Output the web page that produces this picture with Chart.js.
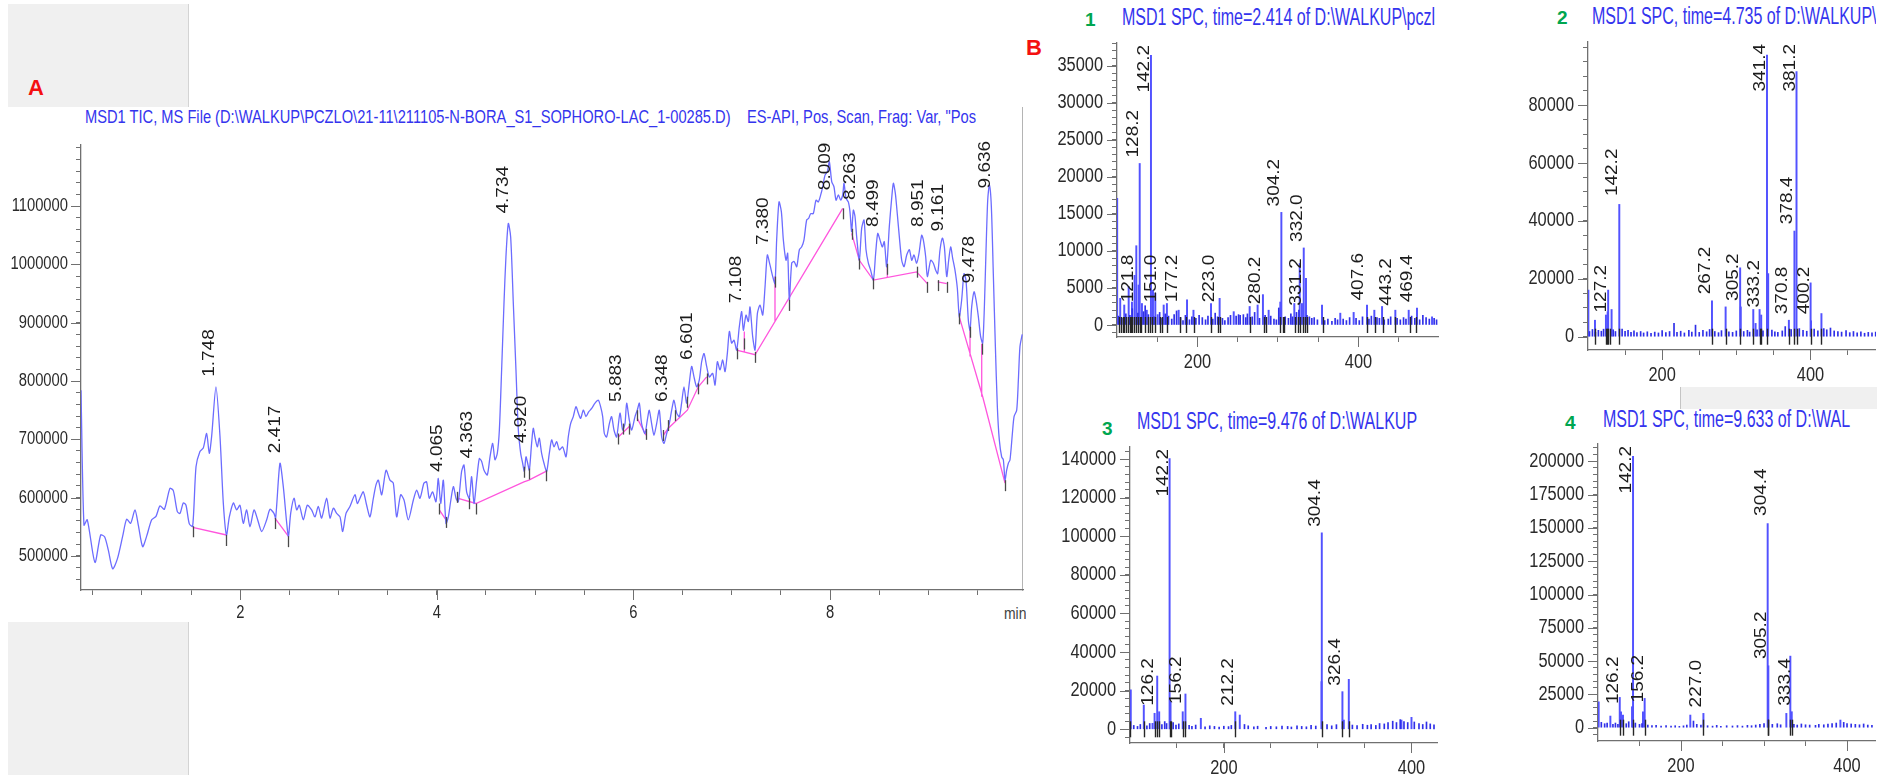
<!DOCTYPE html>
<html>
<head>
<meta charset="utf-8">
<script src="https://cdn.jsdelivr.net/npm/chart.js@4.4.1/dist/chart.umd.min.js"></script>
<style>
  body { margin: 0; width: 1896px; height: 782px; overflow: hidden; position: relative; background: #fff; }
  canvas { position: absolute; }
  .box { position: absolute; background: #f0f0f0; }
  .tag { position: absolute; font-family: 'Liberation Sans', Arial, sans-serif; font-weight: bold; line-height: 1; }
  .ttl { position: absolute; white-space: pre; color: #3434ee; line-height: 1.3;
         font-family: 'Liberation Sans', Arial, sans-serif; }
  .clip { overflow: hidden; }
  .ttl span { display: inline-block; transform-origin: 0 50%; }
</style>
</head>
<body>
<div class="box" style="left:8px;top:4px;width:180px;height:103px;border-right:1px solid #d4d4d4"></div>
<div class="box" style="left:8px;top:622px;width:180px;height:153px;border-right:1px solid #d4d4d4"></div>
<div class="box" style="left:1680px;top:387px;width:196px;height:22px;border-left:1px solid #c4c4c4"></div>
<div style="position:absolute;left:1022px;top:107px;width:1px;height:484px;background:#b4b4b4"></div>

<div class="tag" style="left:28px;top:77px;color:#f41010;font-size:22px">A</div>
<div class="tag" style="left:1026px;top:37px;color:#f41010;font-size:22px">B</div>
<div class="tag" style="left:1085px;top:10px;color:#00a650;font-size:19px">1</div>
<div class="tag" style="left:1557px;top:8px;color:#00a650;font-size:19px">2</div>
<div class="tag" style="left:1102px;top:419px;color:#00a650;font-size:19px">3</div>
<div class="tag" style="left:1565px;top:413px;color:#00a650;font-size:19px">4</div>

<div class="ttl" style="left:85px;top:106px;font-size:18px"><span id="titleA">MSD1 TIC, MS File (D:\WALKUP\PCZLO\21-11\211105-N-BORA_S1_SOPHORO-LAC_1-00285.D)    ES-API, Pos, Scan, Frag: Var, "Pos</span></div>
<div class="ttl clip" style="left:1122px;top:3px;width:315px;font-size:23px"><span class="spt" id="title1">MSD1 SPC, time=2.414 of D:\WALKUP\pczl</span></div>
<div class="ttl clip" style="left:1592px;top:2px;width:284px;font-size:23px"><span class="spt">MSD1 SPC, time=4.735 of D:\WALKUP\p</span></div>
<div class="ttl clip" style="left:1137px;top:407px;width:300px;font-size:23px"><span class="spt">MSD1 SPC, time=9.476 of D:\WALKUP</span></div>
<div class="ttl clip" style="left:1603px;top:405px;width:273px;font-size:23px"><span class="spt">MSD1 SPC, time=9.633 of D:\WAL</span></div>
<div style="position:absolute;left:1004px;top:604px;width:22px;overflow:hidden;white-space:nowrap;font:17px 'Liberation Sans',sans-serif;color:#444"><span style="display:inline-block;transform:scaleX(0.82);transform-origin:0 50%">min</span></div>

<canvas id="tic"></canvas>
<canvas id="sp1"></canvas>
<canvas id="sp2"></canvas>
<canvas id="sp3"></canvas>
<canvas id="sp4"></canvas>

<script>
// ---------- TIC chromatogram (panel A) ----------
const ticTime = [
  0.380,0.410,0.444,0.522,0.580,0.620,0.658,0.702,0.750,0.804,
  0.844,0.885,0.929,0.963,1.007,1.048,1.099,1.143,1.184,1.228,
  1.285,1.319,1.360,1.387,1.421,1.448,1.482,1.516,1.550,1.590,
  1.624,1.658,1.685,1.709,1.753,1.794,1.828,1.860,1.889,1.930,
  1.963,1.997,2.031,2.065,2.099,2.140,2.174,2.218,2.269,2.303,
  2.343,2.360,2.404,2.438,2.489,2.513,2.547,2.574,2.601,2.642,
  2.682,2.726,2.760,2.794,2.828,2.879,2.913,2.947,2.981,3.015,
  3.042,3.076,3.116,3.167,3.191,3.218,3.252,3.286,3.320,3.354,
  3.381,3.405,3.439,3.483,3.523,3.557,3.591,3.632,3.666,
  3.710,3.761,3.795,3.828,3.869,3.896,3.923,3.957,3.991,4.015,
  4.039,4.066,4.093,4.117,4.140,4.168,4.195,4.218,4.252,4.276,
  4.303,4.330,4.354,4.378,4.405,4.432,4.456,4.480,4.513,4.541,
  4.568,4.591,4.615,4.636,4.659,4.683,4.703,4.727,4.751,4.778,
  4.805,4.829,4.853,4.873,4.890,4.907,4.924,4.941,4.964,4.981,
  4.998,5.022,5.042,5.066,5.090,5.117,5.144,5.168,5.192,5.219,
  5.246,5.280,5.314,5.337,5.361,5.388,5.415,5.439,5.463,5.490,
  5.517,5.544,5.575,5.609,5.643,5.666,5.687,5.704,5.727,5.755,
  5.778,5.802,5.829,5.863,5.890,5.914,5.931,5.958,5.982,6.016,
  6.039,6.060,6.083,6.117,6.141,6.161,6.185,6.209,6.236,6.263,
  6.287,6.311,6.338,6.365,6.389,6.412,6.440,6.467,6.490,6.514,
  6.541,6.568,6.592,6.616,6.643,6.670,6.694,6.718,6.745,6.772,
  6.806,6.830,6.854,6.881,6.908,6.932,6.955,6.976,6.999,7.023,
  7.050,7.077,7.101,7.118,7.145,7.169,7.186,7.213,7.237,7.261,
  7.288,7.315,7.339,7.362,7.389,7.417,7.440,7.457,7.481,7.505,
  7.525,7.552,7.569,7.586,7.610,7.634,7.661,7.688,7.712,7.735,
  7.762,7.783,7.803,7.830,7.857,7.881,7.905,7.925,7.949,7.973,
  7.993,8.017,8.040,8.061,8.085,8.108,8.129,8.142,8.163,8.186,
  8.203,8.220,8.237,8.254,8.271,8.298,8.322,8.346,8.366,8.390,
  8.413,8.441,8.464,8.485,8.508,8.532,8.552,8.576,8.603,8.627,
  8.644,8.664,8.685,8.705,8.729,8.753,8.780,8.807,8.831,8.854,
  8.881,8.905,8.932,8.949,8.973,8.990,9.024,9.051,9.075,9.095,
  9.119,9.143,9.163,9.187,9.207,9.227,9.248,9.271,9.295,9.315,
  9.339,9.363,9.383,9.407,9.424,9.441,9.465,9.485,9.509,9.532,
  9.553,9.570,9.587,9.604,9.621,9.641,9.661,9.682,9.702,9.722,
  9.746,9.763,9.780,9.797,9.814,9.831,9.855,9.872,9.899,9.916,
  9.932,9.955
];
// abundance in thousands of counts
const ticAbundK = [
  784,553,562,489,536,533,510,478,495,534,
  563,556,579,553,516,534,562,568,586,580,
  616,612,576,573,591,587,555,551,653,679,
  685,710,676,705,790,705,590,536,567,591,
  579,587,556,579,550,579,564,542,562,580,
  573,565,659,619,534,573,599,579,587,562,
  587,579,567,585,565,599,565,582,573,567,
  542,573,585,605,590,599,610,587,567,599,
  622,630,605,647,630,625,567,605,596,
  562,596,613,599,625,627,599,610,593,633,
  590,630,556,567,593,619,599,593,645,656,
  610,599,636,590,630,667,662,647,639,670,
  693,665,676,716,819,933,1013,1070,1047,933,
  819,716,676,659,645,670,659,647,693,719,
  704,687,702,676,659,645,676,699,687,696,
  682,687,670,704,727,739,756,745,736,750,
  739,747,753,762,767,756,739,710,704,727,
  739,716,704,745,716,727,762,733,716,739,
  750,762,727,710,733,750,727,707,727,750,
  704,693,710,727,750,767,745,739,762,790,
  762,796,825,807,790,802,833,847,825,807,
  813,793,833,819,836,816,847,885,865,870,
  853,893,919,887,913,902,927,876,853,916,
  930,913,962,1016,999,979,967,1042,1107,1090,
  1042,1007,1019,939,1002,1005,996,1025,1030,1042,
  1076,1079,1087,1087,1110,1107,1119,1133,1153,1159,
  1176,1142,1133,1110,1119,1110,1119,1139,1113,1107,
  1090,1056,1093,1082,1047,1007,1062,1076,1025,1002,
  990,973,1019,1053,1042,1030,1039,996,1065,1113,
  1139,1122,1085,1047,1007,996,1016,1025,1007,1016,
  1002,1019,1050,1042,1013,979,1007,1002,990,984,
  1025,1045,1030,979,1007,1030,1010,990,959,910,
  939,984,973,904,887,927,953,939,910,876,
  865,927,1025,1110,1136,1099,984,859,756,699,
  670,665,630,647,659,665,710,739,750,802,
  859,880
];
// integration baselines (null = break)
const ticBaseT = [1.516,1.860,null, 2.353,2.489,null, 4.025,4.093,null,
  4.208,4.398,4.886,4.937,5.110,null, 5.846,5.958,null, 6.039,6.128,null,
  6.304,6.355,6.548,6.660,6.745,null, 7.050,7.237,8.129,null, 7.128,7.128,null,
  7.440,7.440,null, 8.220,8.298,8.441,8.881,8.990,null, 8.583,8.583,null,
  9.095,9.187,null, 9.315,9.553,9.780,null, 9.424,9.424,null, 9.543,9.543];
const ticBaseK = [549,536,null, 565,534,null, 579,562,null,
  599,590,627,630,645,null, 704,722,null, 736,707,null,
  707,719,750,790,807,null, 853,845,1096,null, 885,850,null,
  979,902,null, 1053,1007,973,987,967,null, 996,977,null,
  970,967,null, 910,773,625,null, 887,842,null, 864,773];
// peak start / end markers
const ticMarkT = [1.516,1.860,2.353,2.489,4.025,4.093,4.208,4.330,4.398,4.886,
  4.937,5.110,5.846,5.890,5.958,6.039,6.128,6.304,6.355,6.422,
  6.548,6.660,6.745,7.050,7.128,7.237,7.440,7.586,8.129,8.220,
  8.298,8.441,8.583,8.881,8.990,9.095,9.187,9.315,9.424,9.543,9.780];
const ticMarkK = [551,536,565,534,590,567,610,599,590,653,
  650,647,710,727,727,750,718,716,733,750,
  773,796,813,856,873,850,979,939,1096,1061,
  1010,976,1001,996,970,973,970,916,893,864,630];
// labelled peaks
const ticPeakT = [1.748,2.417,4.065,4.363,4.734,4.920,5.883,6.348,6.601,7.108,7.380,8.009,8.263,8.499,8.951,9.161,9.478,9.636];
const ticPeakK = [790,659,627,650,1070,676,747,747,819,916,1016,1110,1093,1047,1047,1039,950,1113];
const ticXLabels = [2, 4, 6, 8];
const ticYLabels = [500000, 600000, 700000, 800000, 900000, 1000000, 1100000];

// ---------- Mass spectra (panel B) ----------
// 1: time 2.414
const sp1Mz  = [100.2,104.0,109.0,114.5,118.6,121.8,124.0,126.8,128.2,131.0,137.0,142.2,144.7,147.6,150.5,158.0,162.0,176.6,187.0,195.0,216.8,227.5,245.0,264.8,274.7,281.3,288.4,302.9,304.2,320.3,327.0,329.8,332.0,334.8,354.7,377.4,394.0,410.6,419.7,429.3,445.8,462.4,472.7,491.4];
const sp1Int = [17100,3600,2700,5200,3100,6700,10700,5400,21800,2900,2000,36400,4700,4300,1400,2700,2900,2000,3400,2000,2900,3600,1800,2500,2700,4100,2000,3100,15200,2900,8300,2900,10400,6300,2700,1600,1700,2700,2000,2500,2000,2000,2300,1100];
const sp1NoiseMz  = [102,106,111,116,119,126,133,135,139,146,153,156,160,164,168,171,174,179,182,185,190,193,198,202,206,210,213,219,222,225,231,234,238,241,248,251,253,257,260,262,268,271,277,284,291,295,298,301,309,313,316,318,323,326,336,339,342,345,349,358,362,367,371,374,381,385,389,397,401,405,413,416,423,426,432,437,440,448,452,456,459,466,470,476,480,484,488,494,497];
const sp1NoiseInt = [1200,900,1500,1300,2200,1600,1800,2600,1400,1100,1700,900,1500,1200,800,1400,1900,1000,600,1300,700,1100,900,1300,1000,700,1200,800,1600,1100,900,600,1000,1300,1200,1400,1300,1400,1000,1500,1100,1700,900,1300,1200,800,700,2300,1100,900,1500,1100,1700,2000,1300,1100,900,1000,700,600,800,500,900,700,800,600,1000,900,600,1100,800,1200,1000,900,700,800,1100,900,700,1000,800,1200,900,700,1300,1000,800,900,700];
const sp1Marks = [102.0,104.9,107.4,109.1,111.5,113.2,115.7,117.3,119.0,121.5,124.0,125.6,128.1,129.8,135.2,138.0,141.4,143.4,147.6,153.0,155.9,162.1,177.8,186.1,195.2,216.7,225.0,227.5,264.8,282.2,285.5,302.9,306.2,307.8,321.5,324.4,326.9,331.0,333.9,336.0,355.9,410.5,420.9,430.4,445.7,464.4,471.8];
const sp1LabMz  = [121.8,128.2,142.2,151.0,177.2,223.0,280.2,304.2,331.2,332.0,407.6,443.2,469.4];
const sp1LabInt = [2250,21800,36400,2250,2250,2250,2000,15200,1800,10400,2500,1800,2250];

// 2: time 4.735
const sp2Mz  = [100.5,109.4,124.2,126.5,127.2,131.8,142.2,267.2,285.6,305.2,306.0,322.9,326.0,331.4,333.6,341.4,343.0,370.9,378.4,381.2,400.2,400.8,414.8];
const sp2Int = [16100,5700,7500,8600,16100,9400,45700,12400,10300,23800,10300,9400,4600,9400,7500,97300,21800,5700,36500,91600,18600,5500,8000];
const sp2NoiseMz  = [102,106,110,114,118,121,134,137,146,150,154,158,162,166,171,175,180,185,190,195,200,205,210,216,220,225,230,236,240,245,250,255,260,264,271,276,280,290,295,300,310,315,318,328,336,348,352,356,362,366,374,385,390,395,405,410,418,422,427,432,437,442,448,453,458,463,468,473,478,483,488];
const sp2NoiseInt = [1800,2500,1500,2200,1900,2600,2400,1800,2600,1900,2200,1500,2000,1400,1800,1300,1700,1200,1600,1300,2100,1400,1800,4600,1500,1900,1300,2200,1600,4000,1500,2200,1700,2500,1800,1400,2100,1700,1500,2000,1800,2200,1600,2400,2000,2300,1700,1500,2000,3500,2500,2800,2200,1900,2600,2000,2800,2400,3000,2000,1800,1600,2100,1400,1800,1300,1700,1200,1500,1300,1600];
const sp2Marks = [109.4,124.2,125.9,127.2,129.7,142.2,267.2,285.6,305.2,322.9,331.4,333.6,341.4,370.9,378.4,381.2,400.2,414.8];
const sp2LabMz  = [127.2,142.2,267.2,305.2,333.2,341.4,370.8,378.4,381.2,400.2];
const sp2LabInt = [6300,46500,12600,10300,8000,97300,5700,36800,91600,5700];

// 3: time 9.476
const sp3Mz  = [100.8,114.7,124.0,126.2,129.0,131.1,142.2,143.2,156.2,159.1,175.5,212.2,217.0,304.1,304.4,326.4,327.9,333.2,389.3,400.0];
const sp3Int = [20400,12600,3100,8300,27600,9100,140300,14300,9100,18300,5700,9100,7400,24700,101800,19500,4800,25900,4800,6200];
const sp3NoiseMz  = [104,108,111,118,121,134,137,139,146,149,152,163,166,170,180,185,190,195,200,205,208,222,226,232,236,245,250,256,262,268,272,278,283,288,293,298,310,315,320,337,342,348,353,357,362,366,371,375,380,384,388,392,396,403,408,412,416,420,424];
const sp3NoiseInt = [2000,1500,2500,1800,3000,2500,4000,3000,3500,2200,2800,2000,1500,2200,1300,1800,1500,1200,1600,1400,2000,2500,1800,1300,1600,1000,1500,1300,1700,1500,1200,1800,1500,1300,2000,1700,2500,1800,2400,2200,1900,2600,2100,2400,2000,3000,2800,3500,4200,3500,5000,4000,3500,3800,3000,2500,3800,2800,2300];
const sp3Marks = [100.5,114.7,126.2,129.0,131.1,142.2,143.2,156.2,159.1,212.2,304.4,326.4,333.2];
const sp3LabMz  = [126.2,142.2,156.2,212.2,304.4,326.4];
const sp3LabInt = [9100,140300,10000,9100,101800,19500];

// 4: time 9.633
const sp4Mz  = [100.8,114.9,126.2,127.7,130.1,141.0,142.2,154.2,156.2,211.2,227.0,304.4,305.2,326.9,331.7,333.4,392.0];
const sp4Int = [19500,8750,22750,12000,9500,15750,203750,12000,22000,9500,10750,153250,46500,10750,53750,12000,5750];
const sp4NoiseMz  = [104,108,111,118,121,124,134,137,145,150,153,160,165,170,176,182,188,193,198,203,207,215,219,224,232,238,243,248,255,262,268,274,280,285,290,295,300,310,316,320,336,340,345,350,355,362,366,372,377,382,387,396,400,405,410,415,420,425,430];
const sp4NoiseInt = [4000,3000,3500,2500,3500,2500,3000,4500,3500,2500,3000,2000,1500,1800,1300,1600,1200,1500,1000,1400,2000,5000,2500,2000,1500,1200,1800,1000,1500,1300,1600,1200,1800,1500,2000,2500,3000,2500,3000,2200,2500,2000,2800,2200,2000,1800,2500,2200,2800,3000,3500,4000,3000,2800,2500,2200,2800,2000,1800];
const sp4Marks = [126.2,130.1,142.2,156.2,227.0,304.4,305.2,331.7,333.4];
const sp4LabMz  = [126.2,142.2,156.2,227.0,304.4,305.2,333.4];
const sp4LabInt = [13250,203750,14500,10750,154500,47000,12000];

const mzLabels = [200, 400];

// ---------- helpers ----------
const SANS = "'Liberation Sans', Arial, sans-serif";
const AXIS = '#707070';

function steps(from, to, step) {
  const out = [];
  for (let i = 0; from + i * step <= to + 1e-9; i++) out.push(+(from + i * step).toFixed(4));
  return out;
}

// squeezed tick labels, long major ticks, boundary marks, rotated peak labels
const annot = {
  id: 'annot',
  afterDatasetsDraw(chart, args, o) {
    const { ctx, chartArea: a } = chart;
    const xs = chart.scales.x, ys = chart.scales.y;
    ctx.save();
    ctx.strokeStyle = AXIS; ctx.lineWidth = 1;
    o.xMajor.forEach(v => {
      const p = Math.round(xs.getPixelForValue(v)) + 0.5;
      ctx.beginPath(); ctx.moveTo(p, a.bottom); ctx.lineTo(p, a.bottom + o.majLen); ctx.stroke();
    });
    o.yMajor.forEach(v => {
      const p = Math.round(ys.getPixelForValue(v)) + 0.5;
      ctx.beginPath(); ctx.moveTo(a.left - o.majLen, p); ctx.lineTo(a.left, p); ctx.stroke();
    });

    ctx.fillStyle = '#2a2a2a';
    ctx.font = o.tickSize + 'px ' + SANS;
    ctx.textBaseline = 'middle';
    ctx.textAlign = 'right';
    o.yMajor.forEach(v => {
      ctx.save();
      ctx.translate(a.left - o.yLabGap, ys.getPixelForValue(v));
      ctx.scale(o.squeeze, 1);
      ctx.fillText(String(v), 0, 0);
      ctx.restore();
    });
    ctx.textAlign = 'center';
    o.xMajor.forEach(v => {
      ctx.save();
      ctx.translate(xs.getPixelForValue(v), a.bottom + o.xLabGap);
      ctx.scale(o.squeeze, 1);
      ctx.fillText(String(v), 0, 0);
      ctx.restore();
    });

    ctx.strokeStyle = o.markColor; ctx.lineWidth = o.markWidth;
    o.markX.forEach((v, i) => {
      const px = Math.round(xs.getPixelForValue(v)) + 0.5;
      const py = ys.getPixelForValue(o.markY ? o.markY[i] : 0);
      ctx.beginPath(); ctx.moveTo(px, py + o.markFrom); ctx.lineTo(px, py + o.markTo); ctx.stroke();
    });

    ctx.font = o.labSize + 'px ' + SANS; ctx.fillStyle = '#1c1c1c';
    ctx.textAlign = 'left'; ctx.textBaseline = 'alphabetic';
    o.labX.forEach((v, i) => {
      const t = o.labT[i];
      const w = ctx.measureText(t).width;
      let yb = ys.getPixelForValue(o.labY[i]) - o.gap;
      if (o.clamp && yb - w < a.top + 2) yb = a.top + 2 + w;
      ctx.save();
      ctx.translate(xs.getPixelForValue(v) + o.shift, yb);
      ctx.scale(o.labSqueeze, 1);
      ctx.rotate(-Math.PI / 2);
      ctx.fillText(t, 0, 0);
      ctx.restore();
    });
    ctx.restore();
  }
};

function axis(def, isX, m) {
  return {
    type: 'linear', min: def.min, max: def.max, offset: false,
    afterBuildTicks: s => { s.ticks = def.ticks.map(v => ({ value: v })); },
    afterFit: s => { if (isX) s.height = m.xh; else s.width = m.yw; },
    grid: { drawOnChartArea: false, drawTicks: true, tickLength: 5, tickColor: AXIS, offset: false },
    border: { display: true, color: AXIS, width: 1.3 },
    ticks: { display: false, autoSkip: false }
  };
}

function makeChart(id, type, box, m, datasets, xDef, yDef, annotOpts) {
  const cv = document.getElementById(id);
  const W = m.yw + (box.r - box.l) + m.padR;
  const H = m.padT + (box.b - box.t) + m.xh;
  cv.width = W; cv.height = H;
  cv.style.left = (box.l - m.yw) + 'px';
  cv.style.top = (box.t - m.padT) + 'px';
  return new Chart(cv, {
    type,
    data: { datasets },
    options: {
      responsive: false, animation: false, events: [],
      layout: { padding: { top: m.padT, right: m.padR, left: 0, bottom: 0 } },
      plugins: { legend: { display: false }, tooltip: { enabled: false }, annot: annotOpts },
      scales: { x: axis(xDef, true, m), y: axis(yDef, false, m) }
    },
    plugins: [annot]
  });
}

// ---------- panel A ----------
const ticPts = ticTime.map((t, i) => ({ x: t, y: ticAbundK[i] * 1000 }));
const basePts = ticBaseT.map((t, i) => t === null
  ? { x: ticBaseT[i - 1], y: null }
  : { x: t, y: ticBaseK[i] * 1000 });

makeChart('tic', 'line',
  { l: 81, t: 145, r: 1023, b: 590 },
  { yw: 81, xh: 40, padT: 20, padR: 12 },
  [
    { data: ticPts, borderColor: '#6c6cff', borderWidth: 1.3, pointRadius: 0, tension: 0.25 },
    { data: basePts, borderColor: '#ff55dd', borderWidth: 1.3, pointRadius: 0, tension: 0, spanGaps: false }
  ],
  { min: 0.38, max: 9.963, ticks: steps(0.5, 9.5, 0.5) },
  { min: 441700, max: 1204600, ticks: steps(460000, 1200000, 20000) },
  {
    xMajor: ticXLabels, yMajor: ticYLabels, majLen: 10,
    tickSize: 18, squeeze: 0.82, yLabGap: 13, xLabGap: 23,
    markX: ticMarkT, markY: ticMarkK.map(k => k * 1000), markFrom: 0, markTo: 11,
    markColor: '#4a4a4a', markWidth: 1.3,
    labX: ticPeakT, labY: ticPeakK.map(k => k * 1000), labT: ticPeakT.map(t => t.toFixed(3)),
    labSize: 19, gap: 10, shift: -1, labSqueeze: 0.85, clamp: false
  });

// ---------- panel B ----------
function spectrum(id, box, yw, padR, mz, inten, nMz, nInt, marks, labMz, labInt, xDef, yDef, yLabels) {
  makeChart(id, 'bar', box, { yw, xh: 40, padT: 20, padR },
    [
      { data: nMz.map((v, i) => ({ x: v, y: nInt[i] })), backgroundColor: '#2f2fe8', barThickness: 1, grouped: false },
      { data: mz.map((v, i) => ({ x: v, y: inten[i] })), backgroundColor: '#5252ff', barThickness: 1.3, grouped: false }
    ],
    xDef, yDef,
    {
      xMajor: mzLabels, yMajor: yLabels, majLen: 10,
      tickSize: 20, squeeze: 0.82, yLabGap: 14, xLabGap: 25,
      markX: marks, markY: null, markFrom: -8, markTo: 8, markColor: '#262626', markWidth: 1.4,
      labX: labMz, labY: labInt, labT: labMz.map(v => v.toFixed(1)),
      labSize: 19, gap: 6, shift: -2, labSqueeze: 0.85, clamp: true
    });
}

spectrum('sp1', { l: 1117, t: 43, r: 1438, b: 337 }, 70, 4,
  sp1Mz, sp1Int, sp1NoiseMz, sp1NoiseInt, sp1Marks, sp1LabMz, sp1LabInt,
  { min: 100, max: 498.8, ticks: steps(150, 450, 50) },
  { min: -1620, max: 38060, ticks: steps(-1000, 38000, 1000) },
  steps(0, 35000, 5000));

spectrum('sp2', { l: 1588, t: 42, r: 1876, b: 350 }, 70, 0,
  sp2Mz, sp2Int, sp2NoiseMz, sp2NoiseInt, sp2Marks, sp2LabMz, sp2LabInt,
  { min: 100, max: 488.4, ticks: steps(150, 450, 50) },
  { min: -4590, max: 101800, ticks: steps(0, 100000, 5000) },
  steps(0, 80000, 20000));

spectrum('sp3', { l: 1130, t: 447, r: 1437, b: 743 }, 80, 4,
  sp3Mz, sp3Int, sp3NoiseMz, sp3NoiseInt, sp3Marks, sp3LabMz, sp3LabInt,
  { min: 100, max: 427.2, ticks: steps(150, 400, 50) },
  { min: -7100, max: 146270, ticks: steps(-4000, 144000, 4000) },
  steps(0, 140000, 20000));

spectrum('sp4', { l: 1598, t: 444, r: 1876, b: 741 }, 85, 0,
  sp4Mz, sp4Int, sp4NoiseMz, sp4NoiseInt, sp4Marks, sp4LabMz, sp4LabInt,
  { min: 100, max: 434.9, ticks: steps(150, 400, 50) },
  { min: -9985, max: 213000, ticks: steps(-5000, 210000, 5000) },
  steps(0, 200000, 25000));

// squeeze the narrow titles to the width they take in the original
const tA = document.getElementById('titleA');
tA.style.transform = 'scaleX(' + (891 / tA.getBoundingClientRect().width) + ')';
const t1 = document.getElementById('title1');
const sT = 313 / t1.getBoundingClientRect().width;
document.querySelectorAll('.spt').forEach(el => { el.style.transform = 'scaleX(' + sT + ')'; });
</script>
</body>
</html>
